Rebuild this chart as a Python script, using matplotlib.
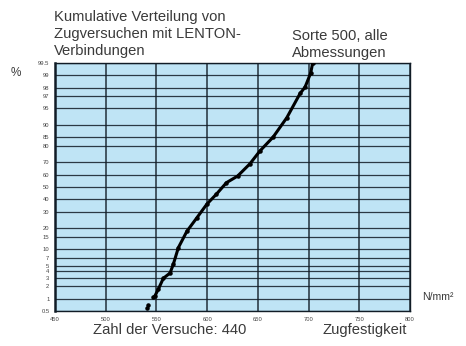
import matplotlib
matplotlib.use("Agg")
import matplotlib.pyplot as plt
import numpy as np
from statistics import NormalDist

plt.rcParams['font.family'] = ['Liberation Sans', 'DejaVu Sans']

# ========================================
# Data
# ========================================
strength = [540.4, 541.7, 546.6, 548.6, 551.9, 556.8, 563.4, 566.6, 571.6, 580.0,
            589.7, 599.6, 609.0, 619.0, 630.0, 642.0, 652.0, 665.0, 678.5, 691.6,
            696.5, 702.0, 704.0]
cum_pct = [0.6, 0.7, 1.1, 1.2, 1.7, 2.9, 3.7, 5.4, 10.4, 17.9,
           26.0, 36.0, 44.0, 53.6, 59.0, 68.4, 77.3, 85.0, 92.5, 97.4,
           98.1, 99.1, 99.5]

y_ticks = [0.5, 1, 2, 3, 4, 5, 7, 10, 15, 20, 30, 40, 50, 60, 70, 80, 85,
           90, 95, 97, 98, 99, 99.5]
x_ticks = [450, 500, 550, 600, 650, 700, 750, 800]

BG = '#bfe4f5'
INK = '#111c26'
TXT = '#3a3a3a'

nd = NormalDist()
_ppf = np.vectorize(lambda v: nd.inv_cdf(v / 100.0), otypes=[float])
_cdf = np.vectorize(lambda v: nd.cdf(v) * 100.0, otypes=[float])


def fwd(p):
    p = np.clip(np.asarray(p, dtype=float), 1e-6, 100 - 1e-6)
    return _ppf(p)


def inv(z):
    return _cdf(np.asarray(z, dtype=float))


fig = plt.figure(figsize=(4.66, 3.46), dpi=100)
ax = fig.add_axes([0.118, 0.101, 0.762, 0.717])
ax.set_facecolor(BG)
ax.set_yscale('function', functions=(fwd, inv))
ax.set_xlim(450, 800)
ax.set_ylim(0.5, 99.5)

# probability paper grid
for p in y_ticks:
    ax.axhline(p, color=INK, lw=0.9, alpha=0.85, zorder=1)
for x in x_ticks:
    ax.axvline(x, color=INK, lw=1.1, alpha=0.9, zorder=1)

ax.plot(strength[3:], cum_pct[3:], color='black', lw=2.2, zorder=3)
ax.scatter(strength, cum_pct, s=5, color='black', zorder=4)

ax.set_xticks(x_ticks)
ax.set_xticklabels([str(x) for x in x_ticks])
ax.set_yticks(y_ticks)
ax.set_yticklabels([f'{p:g}' for p in y_ticks])
ax.yaxis.set_minor_locator(matplotlib.ticker.NullLocator())
ax.tick_params(axis='both', length=0, labelsize=4.2, colors='#444444', pad=4)

for side in ['left', 'right', 'top', 'bottom']:
    ax.spines[side].set_color(INK)
    ax.spines[side].set_linewidth(1.0)
ax.spines['left'].set_linewidth(1.8)

# texts
fig.text(0.116, 0.902, 'Kumulative Verteilung von\nZugversuchen mit LENTON-\nVerbindungen',
         fontsize=10.6, color=TXT, ha='left', va='center', linespacing=1.3)
fig.text(0.627, 0.872, 'Sorte 500, alle\nAbmessungen',
         fontsize=10.6, color=TXT, ha='left', va='center', linespacing=1.3)
fig.text(0.035, 0.79, '%', fontsize=8.5, color=TXT, ha='center', va='center')
fig.text(0.905, 0.143, 'N/mm²', fontsize=7.6, color=TXT, ha='left', va='center')
fig.text(0.2, 0.046, 'Zahl der Versuche: 440', fontsize=10.6, color=TXT,
         ha='left', va='center')
fig.text(0.693, 0.046, 'Zugfestigkeit', fontsize=10.6, color=TXT,
         ha='left', va='center')

fig.savefig('out.png', dpi=100)
